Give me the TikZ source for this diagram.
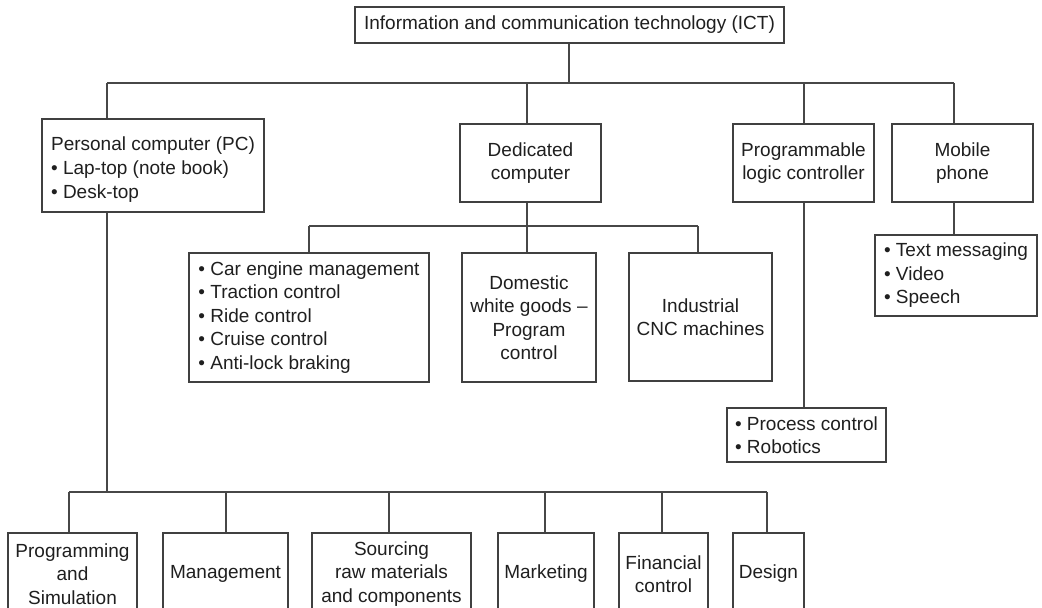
\documentclass[tikz,border=0pt]{standalone}
\usepackage{fontspec}
\setmainfont{Liberation Sans}
\begin{document}
\begin{tikzpicture}[x=1pt,y=-1pt,
  box/.style={draw=black!75, line width=1.1pt, rectangle, inner sep=0pt, align=center,
    font=\fontsize{19}{23.5}\selectfont, text=black!88},
  lbox/.style={box, align=left},
  conn/.style={draw=black!72, line width=1.1pt}]
\useasboundingbox (0,0) rectangle (1042,608);
\clip (0,0) rectangle (1042,608);
\fill[white] (0,0) rectangle (1042,608);

% nodes
\node[box, minimum width=429pt, minimum height=36pt] (ict) at (569.5,25) {Information and communication technology (ICT)};
\node[box, font=\fontsize{19}{24}\selectfont, minimum width=222pt, minimum height=93pt] (pc) at (153,165.5) {\raisebox{-4pt}[\height][\depth]{\begin{tabular}{@{}l@{}}Personal computer (PC)\\\textbullet\ Lap-top (note book)\\\textbullet\ Desk-top\end{tabular}}};
\node[box, minimum width=141pt, minimum height=78pt] (ded) at (530.5,163) {Dedicated\\computer};
\node[box, minimum width=141pt, minimum height=78pt] (plc) at (803.5,163) {Programmable\\logic controller};
\node[box, minimum width=141pt, minimum height=78pt] (mob) at (962.5,163) {Mobile\\phone};
\node[lbox, minimum width=240pt, minimum height=129pt] (car) at (309,317.5) {\textbullet\ Car engine management\\\textbullet\ Traction control\\\textbullet\ Ride control\\\textbullet\ Cruise control\\\textbullet\ Anti-lock braking};
\node[box, minimum width=134pt, minimum height=129pt] (dom) at (529,317.5) {Domestic\\white goods --\\Program\\control};
\node[box, minimum width=143pt, minimum height=128pt] (ind) at (700.5,317) {Industrial\\CNC machines};
\node[lbox, minimum width=159pt, minimum height=54pt] (proc) at (806.5,435) {\textbullet\ Process control\\\textbullet\ Robotics};
\node[lbox, minimum width=162pt, minimum height=81pt] (mlist) at (956,275.5) {\textbullet\ Text messaging\\\textbullet\ Video\\\textbullet\ Speech};
\node[box, minimum width=129pt, minimum height=82pt] (prog) at (72.5,574) {Programming\\and\\Simulation};
\node[box, minimum width=125pt, minimum height=82pt] (mgmt) at (225.5,574) {Management};
\node[box, minimum width=159pt, minimum height=82pt] (src) at (391.5,574) {Sourcing\\raw materials\\and components};
\node[box, minimum width=96pt, minimum height=82pt] (mkt) at (546,574) {Marketing};
\node[box, minimum width=89pt, minimum height=82pt] (fin) at (663.5,574) {Financial\\control};
\node[box, minimum width=71pt, minimum height=82pt] (des) at (768.5,574) {Design};

% junction coordinates
\coordinate (j0) at (569,83);
\coordinate (bL) at (107,83);
\coordinate (bD) at (527,83);
\coordinate (bP) at (804,83);
\coordinate (bM) at (954,83);
\coordinate (d0) at (527,226);
\coordinate (dL) at (309,226);
\coordinate (dR) at (698,226);
\coordinate (p0) at (804,300);
\coordinate (m0) at (954,220);
\coordinate (c0) at (107,492);
\coordinate (c1) at (69,492);
\coordinate (c2) at (226,492);
\coordinate (c3) at (389,492);
\coordinate (c4) at (545,492);
\coordinate (c5) at (662,492);
\coordinate (c6) at (767,492);

% top level
\draw[conn] (ict.south -| j0) -- (j0);
\draw[conn] (bL) -- (bM);
\draw[conn] (bL) -- (bL |- pc.north);
\draw[conn] (bD) -- (bD |- ded.north);
\draw[conn] (bP) -- (bP |- plc.north);
\draw[conn] (bM) -- (bM |- mob.north);

% dedicated
\draw[conn] (ded.south -| d0) -- (d0);
\draw[conn] (dL) -- (dR);
\draw[conn] (dL) -- (dL |- car.north);
\draw[conn] (d0) -- (d0 |- dom.north);
\draw[conn] (dR) -- (dR |- ind.north);

% plc and mobile
\draw[conn] (plc.south -| p0) -- (proc.north -| p0);
\draw[conn] (mob.south -| m0) -- (mlist.north -| m0);

% pc
\draw[conn] (pc.south -| c0) -- (c0);
\draw[conn] (c1) -- (c6);
\draw[conn] (c1) -- (c1 |- prog.north);
\draw[conn] (c2) -- (c2 |- mgmt.north);
\draw[conn] (c3) -- (c3 |- src.north);
\draw[conn] (c4) -- (c4 |- mkt.north);
\draw[conn] (c5) -- (c5 |- fin.north);
\draw[conn] (c6) -- (c6 |- des.north);
\end{tikzpicture}
\end{document}
